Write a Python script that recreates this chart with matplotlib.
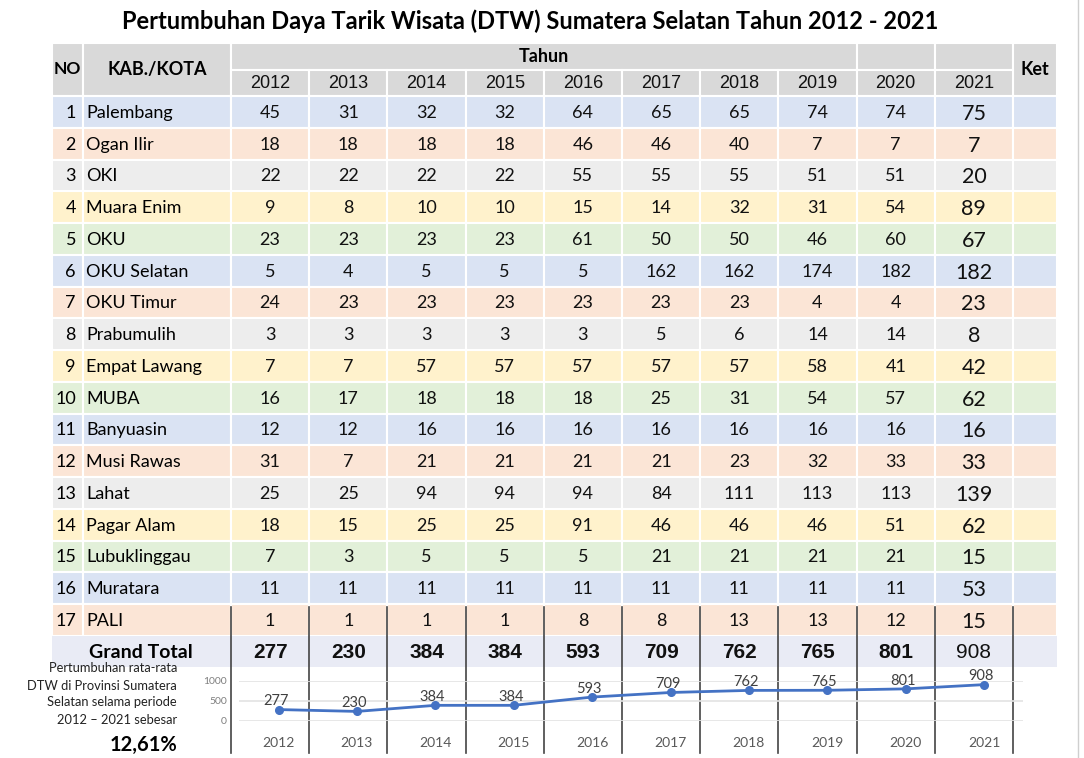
import matplotlib.pyplot as plt
from matplotlib.patches import Rectangle

years = [2012, 2013, 2014, 2015, 2016, 2017, 2018, 2019, 2020, 2021]
regions = ["Palembang", "Ogan Ilir", "OKI", "Muara Enim", "OKU", "OKU Selatan",
           "OKU Timur", "Prabumulih", "Empat Lawang", "MUBA", "Banyuasin",
           "Musi Rawas", "Lahat", "Pagar Alam", "Lubuklinggau", "Muratara", "PALI"]
dtw = [
    [45, 31, 32, 32, 64, 65, 65, 74, 74, 75],
    [18, 18, 18, 18, 46, 46, 40, 7, 7, 7],
    [22, 22, 22, 22, 55, 55, 55, 51, 51, 20],
    [9, 8, 10, 10, 15, 14, 32, 31, 54, 89],
    [23, 23, 23, 23, 61, 50, 50, 46, 60, 67],
    [5, 4, 5, 5, 5, 162, 162, 174, 182, 182],
    [24, 23, 23, 23, 23, 23, 23, 4, 4, 23],
    [3, 3, 3, 3, 3, 5, 6, 14, 14, 8],
    [7, 7, 57, 57, 57, 57, 57, 58, 41, 42],
    [16, 17, 18, 18, 18, 25, 31, 54, 57, 62],
    [12, 12, 16, 16, 16, 16, 16, 16, 16, 16],
    [31, 7, 21, 21, 21, 21, 23, 32, 33, 33],
    [25, 25, 94, 94, 94, 84, 111, 113, 113, 139],
    [18, 15, 25, 25, 91, 46, 46, 46, 51, 62],
    [7, 3, 5, 5, 5, 21, 21, 21, 21, 15],
    [11, 11, 11, 11, 11, 11, 11, 11, 11, 53],
    [1, 1, 1, 1, 8, 8, 13, 13, 12, 15],
]
grand_total = [277, 230, 384, 384, 593, 709, 762, 765, 801, 908]
growth_text = "Pertumbuhan rata-rata\nDTW di Provinsi Sumatera\nSelatan selama periode\n2012 \u2013 2021 sebesar"
growth_pct = "12,61%"

row_colors = ["#dae3f3", "#fbe5d6", "#ededed", "#fff2cc", "#e2f0d9"]
header_col = "#d9d9d9"
total_col = "#e9ebf5"
CAL = ["Lato", "DejaVu Sans"]
ARI = ["Liberation Sans", "DejaVu Sans"]

fig = plt.figure(figsize=(10.84, 7.58), dpi=100)
ax = fig.add_axes([0, 0, 1, 1])
ax.set_xlim(0, 1084)
ax.set_ylim(758, 0)
ax.axis("off")

# column / row geometry (pixels)
x_no, x_kab, x_y0 = 52, 83, 231
cw = 78.2
x_ket = x_y0 + cw * len(years)
x_end = 1057
col_l = [x_y0 + cw * i for i in range(len(years))]
h1, h2, r0 = 43, 70, 96
rh = 31.75


def cell(x0, x1, y0, y1, color):
    ax.add_patch(Rectangle((x0, y0), x1 - x0, y1 - y0, facecolor=color,
                           edgecolor="white", lw=1.5))


# header
cell(x_no, x_kab, h1, r0, header_col)
cell(x_kab, x_y0, h1, r0, header_col)
cell(x_y0, col_l[8], h1, h2, header_col)
cell(col_l[8], col_l[9], h1, h2, header_col)
cell(col_l[9], x_ket, h1, h2, header_col)
cell(x_ket, x_end, h1, r0, header_col)
for i, yr in enumerate(years):
    cell(col_l[i], col_l[i] + cw, h2, r0, header_col)
    ax.text(col_l[i] + cw / 2, (h2 + r0) / 2 + 1, str(yr), ha="center", va="center",
            fontsize=13, family=ARI, color="#111111")
ax.text((x_no + x_kab) / 2, (h1 + r0) / 2, "NO", ha="center", va="center",
        fontsize=12.5, family=CAL, weight="bold")
ax.text((x_kab + x_y0) / 2, (h1 + r0) / 2, "KAB./KOTA", ha="center", va="center",
        fontsize=13, family=CAL, weight="bold")
ax.text((x_y0 + col_l[8]) / 2, (h1 + h2) / 2, "Tahun", ha="center", va="center",
        fontsize=13, family=CAL, weight="bold")
ax.text((x_ket + x_end) / 2, (h1 + r0) / 2, "Ket", ha="center", va="center",
        fontsize=13, family=CAL, weight="bold")

# body rows
for r, (name, vals) in enumerate(zip(regions, dtw)):
    y0 = r0 + rh * r
    yc = y0 + rh / 2 + 1
    color = row_colors[r % len(row_colors)]
    cell(x_no, x_kab, y0, y0 + rh, color)
    cell(x_kab, x_y0, y0, y0 + rh, color)
    for i in range(len(years)):
        cell(col_l[i], col_l[i] + cw, y0, y0 + rh, color)
    cell(x_ket, x_end, y0, y0 + rh, color)
    ax.text(x_kab - 7, yc, str(r + 1), ha="right", va="center", fontsize=13, family=CAL)
    ax.text(x_kab + 3, yc, name, ha="left", va="center", fontsize=13, family=CAL)
    for i, v in enumerate(vals):
        big = i == len(years) - 1
        ax.text(col_l[i] + cw / 2, yc + (1 if big else 0), str(v), ha="center", va="center",
                fontsize=15.5 if big else 13, family=CAL, color="#111111")

# grand total row
yt0 = r0 + rh * len(regions)
yt1 = yt0 + 31
ax.add_patch(Rectangle((x_no, yt0), x_end - x_no, yt1 - yt0, facecolor=total_col,
                       edgecolor="none"))
ax.text(141, (yt0 + yt1) / 2 + 1, "Grand Total", ha="center", va="center",
        fontsize=14, family=CAL, weight="bold")
for i, v in enumerate(grand_total):
    last = i == len(years) - 1
    ax.text(col_l[i] + cw / 2, (yt0 + yt1) / 2 + 1, str(v), ha="center", va="center",
            fontsize=15, family=ARI, weight="normal" if last else "bold", color="#111111")

# dark column separators from PALI row down
for xb in [x_y0] + [c + cw for c in col_l]:
    ax.plot([xb, xb], [yt0 - rh + 3, 753], color="#444444", lw=1.2)

# slide edge
ax.plot([1078, 1078], [0, 758], color="#cfcfcf", lw=1)

fig.text(530 / 1084, 1 - 21 / 758, "Pertumbuhan Daya Tarik Wisata (DTW) Sumatera Selatan Tahun 2012 - 2021",
         ha="center", va="center", fontsize=17, family=CAL, weight="bold")

# note on the left
ax.text(177, 694, growth_text, ha="right", va="center", fontsize=9.3, family=CAL,
        linespacing=1.5, color="#222222")
ax.text(177, 745, growth_pct, ha="right", va="center", fontsize=14.5, family=CAL,
        weight="bold")

# sparkline
W, H = 1084, 758
sx0, sx1 = 239.3, 1023.3
sy0, sy1 = 681, 720.5
spark = fig.add_axes([sx0 / W, 1 - sy1 / H, (sx1 - sx0) / W, (sy1 - sy0) / H])
spark.set_facecolor("none")
xs = list(range(len(years)))
spark.plot(xs, grand_total, color="#4472c4", lw=2, marker="o", markersize=5.5)
for x, v in zip(xs, grand_total):
    spark.annotate(str(v), (x, v), xytext=(-2, 6), textcoords="offset points",
                   ha="center", va="center", fontsize=10.5, family=CAL, color="#404040")
spark.set_xlim(-0.5, len(years) - 0.5)
spark.set_ylim(0, 1000)
spark.set_yticks([0, 500, 1000])
spark.set_xticks(xs)
spark.set_xticklabels([str(y) for y in years], fontsize=10, family=CAL, color="#595959")
spark.tick_params(axis="x", length=0, pad=12)
spark.tick_params(axis="y", length=0, pad=9, labelsize=7.5, labelcolor="#7f7f7f")
for lab in spark.get_yticklabels():
    lab.set_family(CAL)
spark.grid(axis="y", color="#e3e3e3", lw=1.2)
spark.set_axisbelow(True)
for s in spark.spines.values():
    s.set_visible(False)

fig.savefig("out.png", dpi=100)
